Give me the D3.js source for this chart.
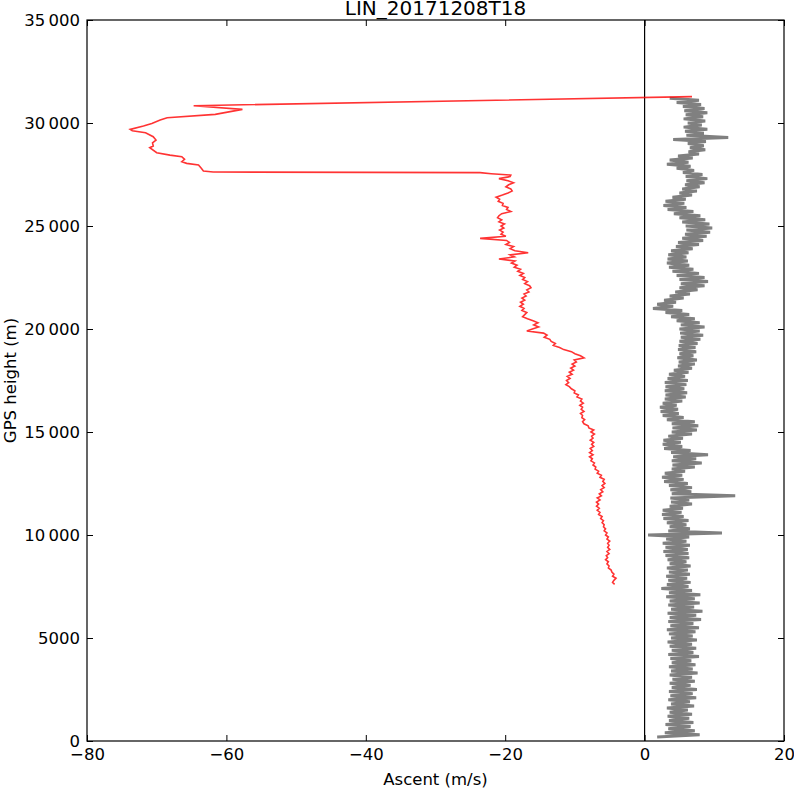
<!DOCTYPE html>
<html>
<head>
  <meta charset="utf-8">
  <title>LIN_20171208T18</title>
  <style>
    html, body {
      margin: 0;
      padding: 0;
      background: #fff;
    }
    svg text {
      font-family: "DejaVu Sans", sans-serif;
      font-size: 16.5px;
      fill: #000;
    }
  </style>
  <script src="https://d3js.org/d3.v7.min.js"></script>
</head>
<body>
  <div id="chart"></div>
  <script>
    const title = "LIN_20171208T18";
    const xTicks = [-80, -60, -40, -20, 0, 20];
    const xTickLabels = ["\u221280", "\u221260", "\u221240", "\u221220", "0", "20"];
    const yTicks = [0, 5000, 10000, 15000, 20000, 25000, 30000, 35000];
    const yTickLabels = ["0", "5000", "10\u2009000", "15\u2009000", "20\u2009000", "25\u2009000", "30\u2009000", "35\u2009000"];

    // ascent rate (grey), one reading every 100 m starting at 200 m
    const ascentStart = 200, ascentStep = 100;
    const ascent = [
      1.8, 7.9, 2.9, 7.2, 3.4, 6.6, 3.0, 7.0, 3.5, 6.4,
      3.3, 6.8, 3.6, 6.2, 3.2, 7.1, 3.8, 6.5, 3.4, 7.4,
      3.7, 6.9, 3.5, 7.5, 3.9, 6.6, 3.6, 7.2, 4.0, 6.8,
      3.6, 7.6, 3.8, 6.9, 3.5, 7.3, 3.9, 6.7, 3.7, 7.8,
      3.4, 7.0, 3.9, 7.4, 3.6, 6.8, 3.3, 7.5, 3.8, 6.9,
      3.5, 7.3, 3.2, 7.8, 3.7, 7.0, 3.4, 8.1, 3.6, 7.4,
      3.3, 8.3, 3.8, 7.1, 3.4, 7.9, 3.6, 7.2, 3.1, 8.0,
      3.5, 6.8, 2.4, 6.3, 3.2, 6.6, 3.4, 6.1, 3.1, 6.5,
      3.5, 6.2, 3.2, 6.6, 3.6, 6.0, 3.3, 6.4, 3.0, 6.3,
      2.7, 6.2, 3.0, 6.5, 2.6, 6.0, 3.1, 6.4, 0.5, 11.1,
      3.4, 6.5, 3.6, 6.0, 3.2, 6.3, 2.7, 5.6, 2.5, 5.3,
      2.6, 5.5, 3.6, 6.8, 3.8, 6.4, 3.7, 13.0, 3.9, 6.7,
      3.7, 6.8, 3.5, 6.2, 2.8, 5.6, 2.5, 5.4, 2.9, 5.8,
      3.9, 7.2, 4.0, 8.2, 3.9, 7.4, 4.1, 9.1, 3.8, 6.6,
      2.8, 5.4, 2.6, 5.2, 2.7, 5.5, 3.4, 6.8, 3.9, 7.5,
      4.0, 7.7, 3.9, 7.2, 3.2, 5.6, 2.6, 4.9, 2.3, 4.8,
      2.2, 4.6, 2.6, 5.4, 2.9, 5.9, 3.0, 6.1, 2.9, 5.7,
      3.0, 6.0, 2.9, 6.2, 3.3, 5.8, 3.5, 6.3, 4.2, 6.8,
      4.8, 7.2, 4.9, 7.5, 4.7, 7.0, 5.0, 7.4, 4.8, 7.3,
      4.9, 7.6, 5.0, 8.0, 5.2, 8.4, 5.1, 7.9, 5.0, 8.6,
      5.2, 7.9, 4.6, 7.2, 3.8, 6.4, 3.0, 5.4, 1.2, 4.1,
      1.8, 4.5, 2.8, 5.6, 3.6, 6.5, 4.4, 7.6, 5.0, 8.6,
      5.2, 9.1, 5.0, 8.6, 4.6, 7.8, 4.0, 7.0, 3.5, 6.4,
      3.2, 6.2, 3.3, 6.0, 3.4, 6.3, 3.8, 6.9, 4.5, 7.8,
      4.8, 8.4, 5.4, 8.9, 5.8, 9.4, 6.0, 9.7, 5.9, 9.3,
      5.4, 8.7, 5.0, 8.0, 4.2, 7.0, 3.3, 6.0, 2.7, 5.7,
      3.0, 5.9, 4.0, 6.8, 5.0, 7.5, 5.4, 7.9, 5.8, 8.6,
      6.0, 9.0, 5.9, 8.3, 5.5, 7.1, 4.6, 6.6, 3.2, 6.3,
      3.6, 6.9, 4.8, 7.8, 6.3, 8.7, 6.5, 8.5, 6.2, 8.8,
      4.1, 12.0, 6.0, 8.5, 5.8, 9.0, 5.6, 8.2, 6.2, 8.7,
      5.6, 8.4, 5.9, 9.0, 5.7, 8.6, 5.5, 8.1, 4.6, 7.8,
      3.6
    ];

    // descent (red), fall after burst, read point by point
    const descentTopHeight = [31280, 30840, 30660, 30420, 30255, 30143, 29980, 29852, 29690, 29625,
      29527, 29333, 29173, 29041, 28881, 28800, 28556, 28440, 28360, 28236,
      28120, 28040, 27960, 27800, 27670, 27620, 27590, 27540, 27470];
    const descentTopValue = [6.8, -64.7, -57.7, -61.6, -68.5, -69.5, -70.7, -71.9, -73.8, -73.5,
      -71.6, -70.5, -70.1, -70.6, -70.5, -71.0, -70.0, -68.1, -66.4, -66.0,
      -66.4, -65.7, -64.0, -63.6, -63.3, -61.9, -23.6, -22.0, -19.2];

    // descent (red), lower part, one reading every 100 m from 27 400 m down
    const descentStart = 27400, descentStep = -100;
    const descent = [
      -19.3, -20.9, -19.6, -18.8, -19.5, -19.9, -19.2, -19.0, -19.6, -20.4,
      -21.3, -20.8, -21.0, -20.3, -20.4, -19.6, -19.8, -19.2, -20.5, -20.9,
      -21.1, -20.5, -20.9, -20.1, -20.6, -20.2, -20.8, -20.3, -20.6, -19.9,
      -23.6, -19.8, -19.4, -19.9, -18.8, -19.3, -18.6, -16.7, -19.3, -18.7,
      -20.9, -18.6, -19.1, -18.3, -18.7, -17.8, -18.2, -17.4, -17.9, -17.2,
      -17.5, -16.8, -17.2, -16.5, -16.3, -16.9, -16.6, -17.3, -17.0, -17.6,
      -17.2, -17.8, -17.4, -17.9, -17.3, -17.6, -16.9, -17.2, -17.5, -16.8,
      -16.0, -15.3, -15.9, -15.2, -16.1, -16.9, -14.5, -14.0, -14.4, -13.6,
      -13.4, -12.8, -13.1, -12.2, -11.6, -10.5, -10.0, -9.2, -8.7, -10.1,
      -9.8, -10.4, -10.0, -10.6, -10.2, -10.8, -10.4, -11.1, -10.7, -11.2,
      -10.9, -11.3, -10.8, -10.5, -10.0, -10.1, -9.5, -9.7, -9.0, -9.2,
      -8.8, -9.3, -8.9, -9.1, -8.7, -9.2, -8.9, -9.0, -8.6, -8.9,
      -8.7, -8.1, -8.0, -7.3, -7.7, -7.2, -7.6, -7.4, -7.8, -7.3,
      -7.6, -7.3, -7.8, -7.5, -7.9, -7.4, -7.9, -7.5, -7.7, -7.2,
      -7.4, -7.0, -7.1, -6.6, -6.8, -6.2, -6.4, -5.8, -6.0, -5.7,
      -6.1, -5.8, -6.3, -6.0, -6.5, -6.2, -6.8, -6.4, -6.9, -6.6,
      -6.9, -6.5, -6.8, -6.4, -6.6, -6.1, -6.3, -5.9, -6.1, -5.8,
      -5.9, -5.6, -5.8, -5.4, -5.6, -5.2, -5.4, -5.0, -5.3, -5.1,
      -5.3, -5.0, -5.4, -5.1, -5.5, -5.3, -5.6, -5.2, -5.4, -5.1,
      -5.2, -4.8, -4.7, -4.4, -4.6, -4.1, -4.4, -4.6, -4.3
    ];

    const width = 794;
    const height = 788;
    const margin = { top: 20, right: 10, bottom: 47, left: 87 };

    const ascentPts = ascent.map((v, i) => [v, ascentStart + i * ascentStep]);
    const descentPts = descentTopValue.map((v, i) => [v, descentTopHeight[i]])
      .concat(descent.map((v, i) => [v, descentStart + i * descentStep]));

    const x = d3.scaleLinear().domain([-80, 20]).range([margin.left, width - margin.right]);
    const y = d3.scaleLinear().domain([0, 35000]).range([height - margin.bottom, margin.top]);

    const svg = d3.select("#chart")
      .append("svg")
      .attr("width", width)
      .attr("height", height);

    svg.append("clipPath").attr("id", "plot")
      .append("rect")
      .attr("x", x(-80)).attr("y", y(35000))
      .attr("width", x(20) - x(-80)).attr("height", y(0) - y(35000));

    const plot = svg.append("g").attr("clip-path", "url(#plot)");

    plot.append("line")
      .attr("x1", x(0)).attr("x2", x(0))
      .attr("y1", y(0)).attr("y2", y(35000))
      .attr("stroke", "#000")
      .attr("stroke-width", 1.2);

    const line = d3.line().x(d => x(d[0])).y(d => y(d[1]));

    // thick enough that the zig-zag reads as a solid band
    plot.append("path")
      .datum(ascentPts)
      .attr("d", line)
      .attr("fill", "none")
      .attr("stroke", "#808080")
      .attr("stroke-width", 3)
      .attr("stroke-linejoin", "bevel");

    plot.append("path")
      .datum(descentPts)
      .attr("d", line)
      .attr("fill", "none")
      .attr("stroke", "red")
      .attr("stroke-opacity", 0.8)
      .attr("stroke-width", 1.6);

    // ticks point inward on all four sides, labels only bottom and left
    function styleAxis(g) {
      g.select(".domain").remove();
      g.selectAll(".tick line").attr("stroke", "#000").attr("stroke-width", 1);
      g.selectAll(".tick text").attr("font-size", null).attr("font-family", null);
    }

    svg.append("g")
      .attr("transform", `translate(0,${y(0)})`)
      .call(d3.axisBottom(x).tickValues(xTicks).tickFormat((d, i) => xTickLabels[i])
        .tickSizeInner(-6).tickSizeOuter(0).tickPadding(7))
      .call(styleAxis);

    svg.append("g")
      .attr("transform", `translate(0,${y(35000)})`)
      .call(d3.axisTop(x).tickValues(xTicks).tickFormat("").tickSizeInner(-6).tickSizeOuter(0))
      .call(styleAxis);

    svg.append("g")
      .attr("transform", `translate(${x(-80)},0)`)
      .call(d3.axisLeft(y).tickValues(yTicks).tickFormat((d, i) => yTickLabels[i])
        .tickSizeInner(-6).tickSizeOuter(0).tickPadding(7))
      .call(styleAxis);

    svg.append("g")
      .attr("transform", `translate(${x(20)},0)`)
      .call(d3.axisRight(y).tickValues(yTicks).tickFormat("").tickSizeInner(-6).tickSizeOuter(0))
      .call(styleAxis);

    svg.append("rect")
      .attr("x", x(-80)).attr("y", y(35000))
      .attr("width", x(20) - x(-80)).attr("height", y(0) - y(35000))
      .attr("fill", "none")
      .attr("stroke", "#000")
      .attr("stroke-width", 1.2);

    svg.append("text")
      .attr("x", (x(-80) + x(20)) / 2)
      .attr("y", 15)
      .attr("text-anchor", "middle")
      .style("font-size", "20px")
      .text(title);

    svg.append("text")
      .attr("x", (x(-80) + x(20)) / 2)
      .attr("y", 785)
      .attr("text-anchor", "middle")
      .text("Ascent (m/s)");

    svg.append("text")
      .attr("transform", `translate(16,${(y(0) + y(35000)) / 2}) rotate(-90)`)
      .attr("text-anchor", "middle")
      .text("GPS height (m)");
  </script>
</body>
</html>
